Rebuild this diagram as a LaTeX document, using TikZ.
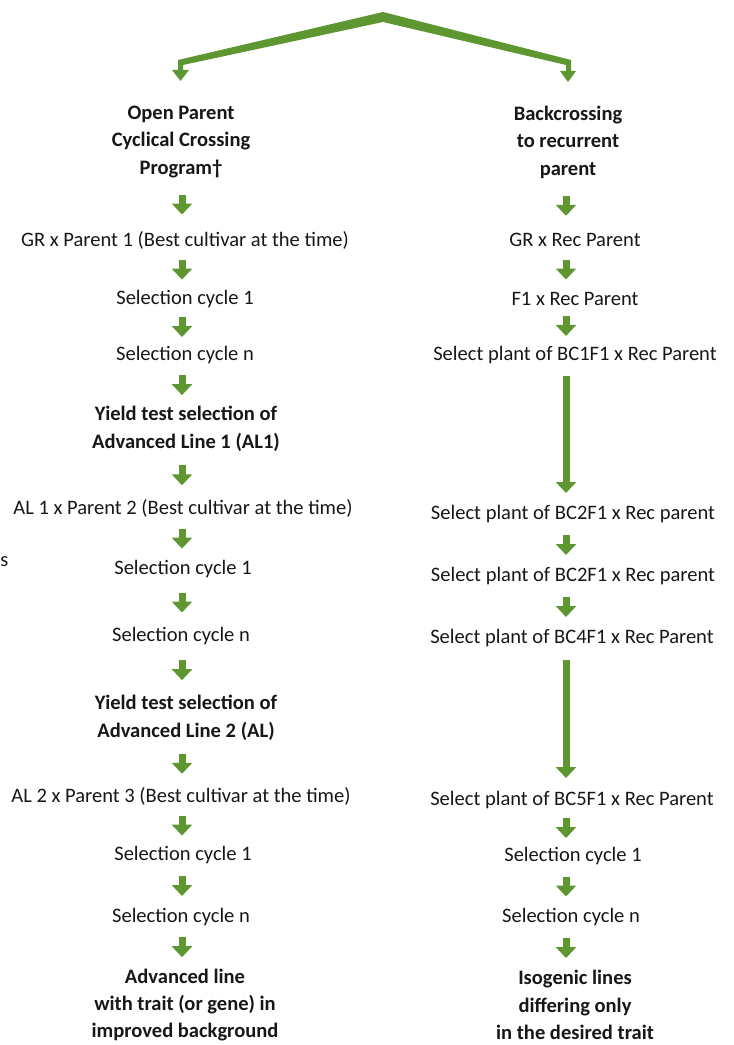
\documentclass[tikz,border=0pt]{standalone}
\usepackage{fontspec}
\setmainfont{Carlito}
\usetikzlibrary{arrows.meta,calc}
\definecolor{agreen}{RGB}{94,151,50}
\definecolor{txt}{RGB}{25,22,23}
\newcommand\garrow[4][20]{%
  \draw[garr] ($($(#4 |- #2.south)!0.5!(#4 |- #3.north)$)+(0,-#1/2)$) -- ++(0,#1);}
\begin{document}
\begin{tikzpicture}[x=0.75pt,y=-0.75pt,
  lbl/.style={inner sep=0pt, text=txt, font=\fontsize{15.4pt}{20.6pt}\selectfont, align=center},
  blbl/.style={lbl, font=\fontsize{15.4pt}{20.6pt}\selectfont\bfseries},
  garr/.style={draw=agreen, line width=5.25pt, -{Triangle[width=15pt,length=8.25pt]}},
]
\useasboundingbox (0,0) rectangle (734,1045);

% columns
\coordinate (colL) at (182,0);
\coordinate (colR) at (566,0);

% top chevron
\coordinate (apex) at (383,12);
\coordinate (lend) at (180.5,81);
\coordinate (rend) at (568,82);
\fill[agreen] (178,60) -- (apex) -- (571,60) -- (571,71) -- (566,71) -- (566,65) -- (383,22) -- (183,65) -- (183,70) -- (178,70) -- cycle;
\fill[agreen] (172,70) -- (189,70) -- (lend) -- cycle;
\fill[agreen] (560,71) -- (576,71) -- (rend) -- cycle;

% left column
\node[blbl] (L0) at (181,142) {Open Parent\\Cyclical Crossing\\Program†};
\node[lbl] (L1) at (185,240) {GR x Parent 1 (Best cultivar at the time)};
\node[lbl] (L2) at (185,299) {Selection cycle 1};
\node[lbl] (L3) at (185,355) {Selection cycle n};
\node[blbl] (L4) at (186,429) {Yield test selection of\\Advanced Line 1 (AL1)};
\node[lbl] (L5) at (183,508) {AL 1 x Parent 2 (Best cultivar at the time)};
\node[lbl] (L6) at (183,569) {Selection cycle 1};
\node[lbl] (L7) at (181,636) {Selection cycle n};
\node[blbl] (L8) at (186,718) {Yield test selection of\\Advanced Line 2 (AL)};
\node[lbl] (L9) at (181,796) {AL 2 x Parent 3 (Best cultivar at the time)};
\node[lbl] (L10) at (183,855) {Selection cycle 1};
\node[lbl] (L11) at (181,917) {Selection cycle n};
\node[blbl] (L12) at (185,1005) {Advanced line\\with trait (or gene) in\\improved background};

% right column
\node[blbl] (R0) at (568,142) {Backcrossing\\to recurrent\\parent};
\node[lbl] (R1) at (575,240) {GR x Rec Parent};
\node[lbl] (R2) at (575,299) {F1 x Rec Parent};
\node[lbl] (R3) at (575,355) {Select plant of BC1F1 x Rec Parent};
\node[lbl] (R4) at (573,514) {Select plant of BC2F1 x Rec parent};
\node[lbl] (R5) at (573,576) {Select plant of BC2F1 x Rec parent};
\node[lbl] (R6) at (572,638) {Select plant of BC4F1 x Rec Parent};
\node[lbl] (R7) at (572,800) {Select plant of BC5F1 x Rec Parent};
\node[lbl] (R8) at (573,856) {Selection cycle 1};
\node[lbl] (R9) at (571,917) {Selection cycle n};
\node[blbl] (R10) at (575,1005) {Isogenic lines\\differing only\\in the desired trait};

% stray fragment at left edge
\node[lbl, anchor=west] (frag) at (0,562) {s};

% left arrows
\garrow{L0}{L1}{colL}
\garrow{L1}{L2}{colL}
\garrow{L2}{L3}{colL}
\garrow{L3}{L4}{colL}
\garrow{L4}{L5}{colL}
\garrow{L5}{L6}{colL}
\garrow{L6}{L7}{colL}
\garrow{L7}{L8}{colL}
\garrow{L8}{L9}{colL}
\garrow{L9}{L10}{colL}
\garrow{L10}{L11}{colL}
\garrow{L11}{L12}{colL}

% right arrows
\garrow{R0}{R1}{colR}
\garrow{R1}{R2}{colR}
\garrow{R2}{R3}{colR}
\garrow[117]{R3}{R4}{colR}
\garrow{R4}{R5}{colR}
\garrow{R5}{R6}{colR}
\garrow[118]{R6}{R7}{colR}
\garrow{R7}{R8}{colR}
\garrow{R8}{R9}{colR}
\garrow{R9}{R10}{colR}
\end{tikzpicture}
\end{document}
